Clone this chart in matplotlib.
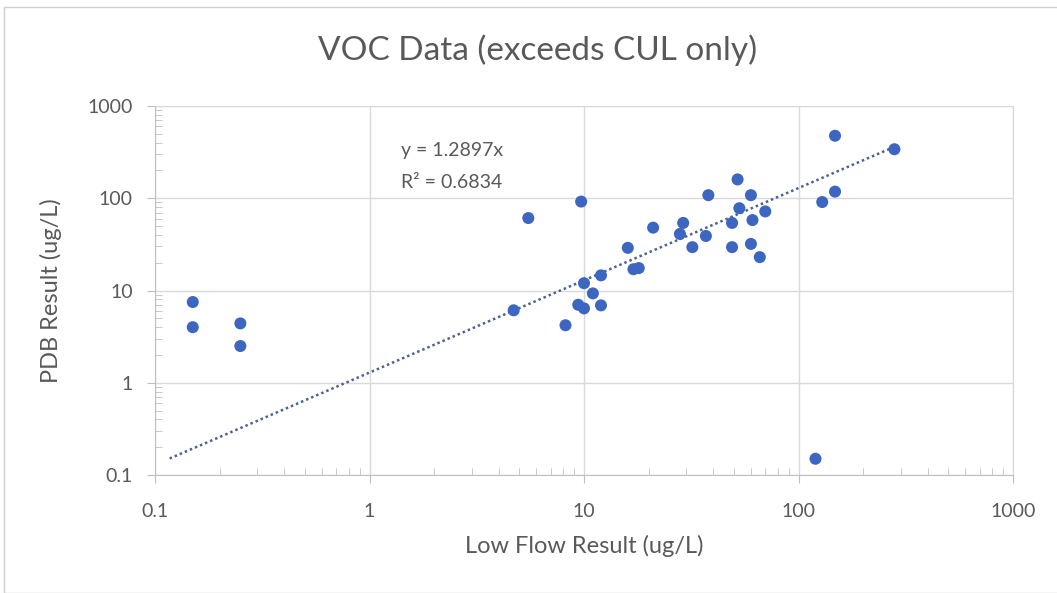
import matplotlib.pyplot as plt
import numpy as np
from matplotlib.ticker import LogLocator, FixedLocator, NullFormatter

# Data
low_flow = [0.15, 0.15, 0.25, 0.25,
            148, 52, 38, 60, 9.7, 148, 129, 5.5, 53, 70, 61, 49, 29, 21, 28, 37,
            16, 32, 49, 60, 66, 17, 18, 12, 10, 11, 9.4, 10, 12, 4.7, 8.2, 120, 280]
pdb = [7.5, 4.0, 4.4, 2.5,
       476, 160, 108, 108, 92, 118, 91, 61, 78, 72, 58, 54, 54, 48, 41, 39,
       29, 29.5, 29.5, 32, 23, 17, 17.5, 14.6, 12, 9.3, 7.0, 6.4, 6.9, 6.1, 4.2, 0.15, 340]
slope = 1.2897
r2 = 0.6834
trend_x = [0.117, 285]

plt.rcParams['font.family'] = ['Lato', 'DejaVu Sans']
grey = '#595959'

fig = plt.figure(figsize=(10.57, 5.93), dpi=100)
ax = fig.add_axes([155 / 1057, 1 - 475 / 593, (1013 - 155) / 1057, (475 - 106) / 593])

ax.set_xscale('log')
ax.set_yscale('log')
ax.set_xlim(0.1, 1000)
ax.set_ylim(0.1, 1000)

ax.grid(True, which='major', color='#d9d9d9', lw=1)
ax.set_axisbelow(True)

tx = np.array(trend_x)
ax.plot(tx, slope * tx, linestyle=(0, (1, 1.2)), color='#4a6391', lw=1.8, zorder=2)
ax.scatter(low_flow, pdb, s=75, color='#3c66c0', edgecolors='none', zorder=3)

ax.text(1.4, 333, 'y = %.4fx' % slope, fontsize=14, color=grey, va='center')
ax.text(1.4, 150, 'R² = %.4f' % r2, fontsize=14, color=grey, va='center')

ticks = [0.1, 1, 10, 100, 1000]
labels = ['0.1', '1', '10', '100', '1000']
ax.xaxis.set_major_locator(FixedLocator(ticks))
ax.yaxis.set_major_locator(FixedLocator(ticks))
ax.set_xticklabels(labels)
ax.set_yticklabels(labels)
ax.xaxis.set_minor_locator(LogLocator(base=10, subs=np.arange(2, 10)))
ax.yaxis.set_minor_locator(LogLocator(base=10, subs=np.arange(2, 10)))
ax.xaxis.set_minor_formatter(NullFormatter())
ax.yaxis.set_minor_formatter(NullFormatter())
ax.tick_params(which='major', direction='out', length=6, color='#bfbfbf',
               labelcolor=grey, labelsize=14)
ax.tick_params(axis='x', which='major', pad=14)
ax.tick_params(axis='y', which='major', pad=10)
ax.tick_params(which='minor', direction='in', length=5, color='#bfbfbf')

for s in ax.spines.values():
    s.set_color('#d9d9d9')
ax.spines['left'].set_color('#bfbfbf')
ax.spines['bottom'].set_color('#bfbfbf')

ax.set_xlabel('Low Flow Result (ug/L)', fontsize=17, color=grey, labelpad=11)
ax.set_ylabel('PDB Result (ug/L)', fontsize=17, color=grey, labelpad=18)
fig.suptitle('VOC Data (exceeds CUL only)', x=538 / 1057, y=1 - 50 / 593, va='center',
             fontsize=24, color=grey)

# outer chart border
fig.patches.append(plt.Rectangle((4 / 1057, 0), 1, 1 - 7 / 593, transform=fig.transFigure,
                                 fill=False, edgecolor='#d0d0d0', lw=1))

fig.savefig('out.png', dpi=100)
